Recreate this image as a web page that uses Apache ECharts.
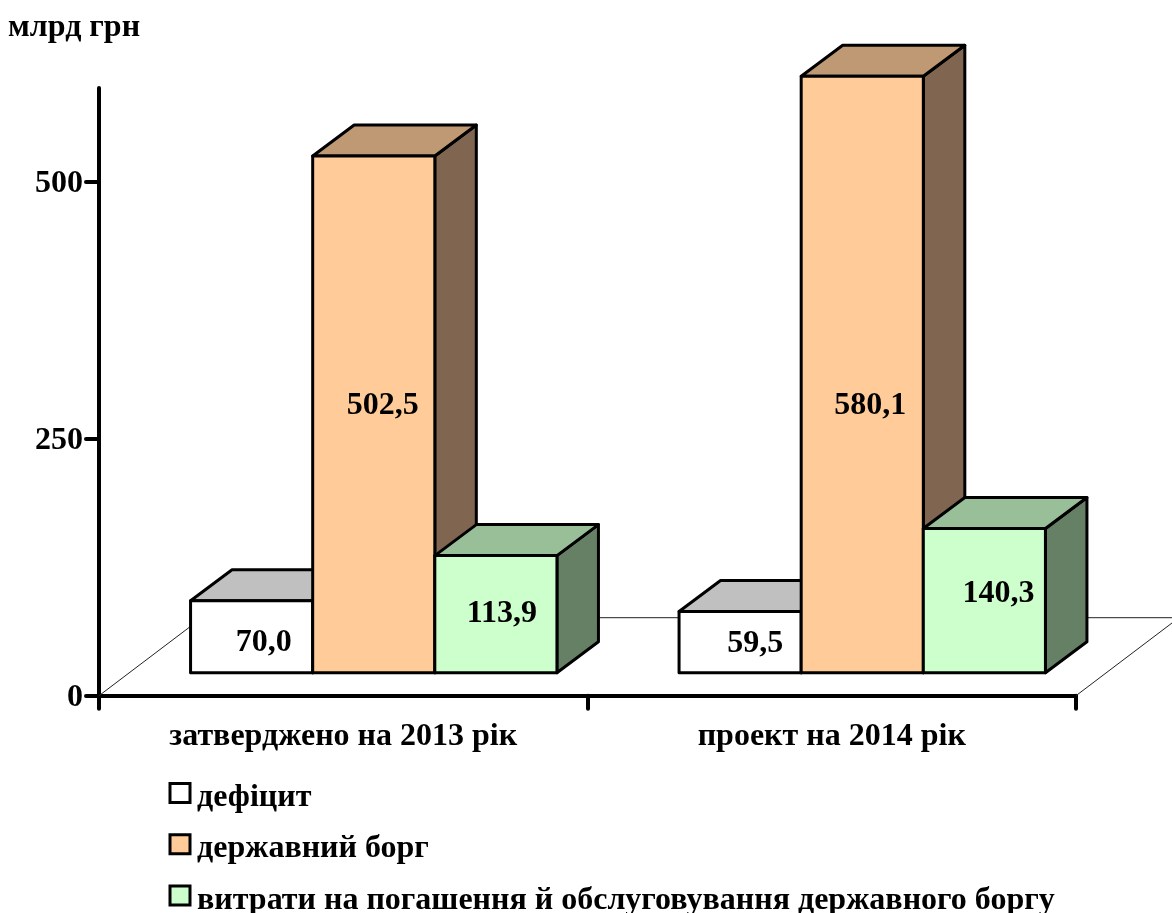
<!DOCTYPE html>
<html>
<head>
<meta charset="utf-8">
<style>html,body{margin:0;padding:0;background:#fff}#c{width:1172px;height:913px}</style>
<script src="https://cdn.jsdelivr.net/npm/echarts@6/dist/echarts.min.js"></script>
</head>
<body>
<div id="c"></div>
<script>
const categories = ['затверджено на 2013 рік', 'проект на 2014 рік'];
const seriesNames = ['дефіцит', 'державний борг', 'витрати на погашення й обслуговування державного боргу'];
const deficit = [70.0, 59.5];
const debt = [502.5, 580.1];
const debtService = [113.9, 140.3];
const yTicks = [0, 250, 500];
const unitLabel = 'млрд грн';

const FONT = '"Liberation Serif","Times New Roman",serif';
const faces = [
  {front: '#ffffff', top: '#c0c0c0', side: '#808080'},
  {front: '#ffcc99', top: '#bf9973', side: '#806650'},
  {front: '#ccffcc', top: '#99bf99', side: '#668066'}
];
// hand-placed value-label nudges (px from the front-face centre): [series][category]
const labelNudge = [
  [[12, 6], [15, 2]],
  [[9, -9], [8, 31]],
  [[6, 0], [14, -7]]
];
const DX = 41.5, DY = -31;        // box depth
const LIFT_X = 30.5, LIFT_Y = -23; // front plane relative to the axis plane
const FLOOR_X = 103, FLOOR_Y = -78;

function fmt(v) { return v.toFixed(1).replace('.', ','); }

function poly(points, fill) {
  return {type: 'polygon', shape: {points}, style: {fill, stroke: '#000', lineWidth: 3, lineJoin: 'round'}};
}

function boxRenderer(si) {
  return function (params, api) {
    const cat = api.value(0), val = api.value(1);
    const band = api.size([1, 0])[0];
    const w = band / 4;
    const c = api.coord([cat, 0]);
    const t = api.coord([cat, val]);
    const x0 = c[0] + LIFT_X + (si - 1.5) * w, x1 = x0 + w;
    const yb = c[1] + LIFT_Y, yt = t[1] + LIFT_Y;
    const f = faces[si];
    const n = labelNudge[si][cat];
    return {type: 'group', children: [
      poly([[x1, yb], [x1 + DX, yb + DY], [x1 + DX, yt + DY], [x1, yt]], f.side),
      poly([[x0, yt], [x0 + DX, yt + DY], [x1 + DX, yt + DY], [x1, yt]], f.top),
      poly([[x0, yb], [x1, yb], [x1, yt], [x0, yt]], f.front),
      {type: 'text', z2: 10, style: {
        x: (x0 + x1) / 2 + n[0], y: (yb + yt) / 2 + n[1], text: fmt(val),
        font: 'bold 32px ' + FONT, fill: '#000', align: 'center', verticalAlign: 'middle'
      }}
    ]};
  };
}

function floorRenderer(params, api) {
  const g = params.coordSys;
  const l = g.x, r = g.x + g.width, b = g.y + g.height;
  return {type: 'polyline', shape: {points: [
    [l, b], [l + FLOOR_X, b + FLOOR_Y], [r + FLOOR_X, b + FLOOR_Y], [r, b]
  ]}, style: {fill: null, stroke: '#222', lineWidth: 1}};
}

const values = [deficit, debt, debtService];
const chart = echarts.init(document.getElementById('c'), null, {renderer: 'canvas'});
chart.setOption({
  animation: false,
  backgroundColor: '#fff',
  title: {text: unitLabel, left: 8, top: 12, padding: 0, textStyle: {fontFamily: FONT, fontSize: 32, fontWeight: 'bold', color: '#000'}},
  grid: {left: 99, right: 96, top: 88, height: 607.7},
  xAxis: {
    type: 'category', data: categories,
    axisLine: {lineStyle: {color: '#000', width: 4, cap: 'round'}},
    axisTick: {show: true, length: 13, lineStyle: {color: '#000', width: 4, cap: 'round'}},
    axisLabel: {fontFamily: FONT, fontWeight: 'bold', fontSize: 32, color: '#000', margin: 25, interval: 0}
  },
  yAxis: {
    type: 'value', min: 0, max: 591, interval: 250,
    splitLine: {show: false},
    axisLine: {show: true, lineStyle: {color: '#000', width: 4, cap: 'round'}},
    axisTick: {show: true, length: 13, customValues: yTicks, lineStyle: {color: '#000', width: 4, cap: 'round'}},
    axisLabel: {fontFamily: FONT, fontWeight: 'bold', fontSize: 32, color: '#000', margin: 16, customValues: yTicks, verticalAlign: 'top', lineHeight: 4}
  },
  legend: {
    orient: 'vertical', left: 168.5, top: 772, height: 300, padding: 0, itemWidth: 20, itemHeight: 19, itemGap: 9.2,
    icon: 'rect',
    selectedMode: false,
    formatter: name => '{t|' + name + '}',
    textStyle: {fontFamily: FONT, fontWeight: 'bold', fontSize: 32, color: '#000', rich: {
      t: {fontFamily: FONT, fontWeight: 'bold', fontSize: 32, color: '#000', lineHeight: 22, padding: [10, 0, 0, 2]}
    }},
    data: seriesNames.map((name, i) => ({name, itemStyle: {color: faces[i].front, borderColor: '#000', borderWidth: 3}}))
  },
  series: [
    {type: 'custom', name: 'floor', renderItem: floorRenderer, data: [[0, 0]], encode: {x: 0, y: 1}, silent: true, z: 1}
  ].concat(seriesNames.map((name, si) => ({
    type: 'custom', name, z: 2 + si, silent: true,
    renderItem: boxRenderer(si),
    itemStyle: {color: faces[si].front},
    encode: {x: 0, y: 1},
    clip: false,
    data: values[si].map((v, i) => [i, v])
  })))
});
</script>
</body>
</html>
